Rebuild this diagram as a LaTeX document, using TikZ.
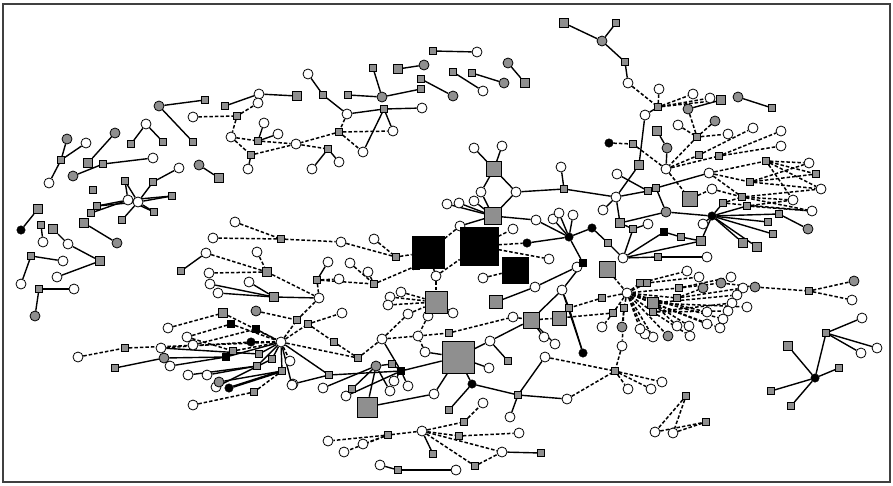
\documentclass[tikz,border=0pt]{standalone}
\usepackage{tikz}
\usetikzlibrary{positioning}

\definecolor{nodegray}{gray}{0.56}
\pgfdeclarelayer{bg}
\pgfsetlayers{bg,main}

\tikzset{
  wc/.style={circle, draw, fill=white, inner sep=0pt, minimum size=10pt, line width=0.8pt},
  gc/.style={wc, fill=nodegray},
  kc/.style={circle, draw, fill=black, inner sep=0pt, minimum size=8.5pt},
  ss/.style={rectangle, draw, fill=nodegray, inner sep=0pt, minimum size=7pt, line width=0.7pt},
  ms/.style={ss, minimum size=9.5pt},
  ks/.style={ss, fill=black},
  link/.style={line width=1.4pt},
  dlink/.style={line width=1.5pt, dash pattern=on 3.5pt off 2pt},
}

\begin{document}
\begin{tikzpicture}[x=1pt,y=-1pt]
    \useasboundingbox (0,0) rectangle (893,485);
    \draw[line width=1.2pt, black!75] (3,4) rectangle (890,482);

    % white circles
    \foreach \nm/\x/\y in {A2/86/143, A4/49/183, A9/153/158, A10/146/124, A18/179/168, A19/128/200, A20/138/202, A34/43/242, A35/68/244, A38/63/261, A40/57/277, A41/21/284, A43/74/289,
      B2/259/94, B4/258/103, B5/193/117, B7/231/137, B9/296/144, B10/264/123, B11/278/134, B13/248/169, B14/308/74, B16/347/114, B18/422/108, B19/393/131, B20/363/152, B23/312/169, B24/339/162, B32/477/52, B36/483/91,
      C5/628/83, C7/659/89, C8/693/94, C9/710/98, C14/645/115, C17/666/169, C21/678/125, C24/728/134, C25/753/128, C26/781/131, C27/781/146, C31/809/163, C33/821/189, C34/793/200, C35/812/211, C39/709/173, C40/712/189, C53/703/224,
      D2/474/148, D3/502/146, D4/481/192, D5/516/192, D7/447/204, D8/459/203, D9/474/201, D11/561/167, D12/536/220, D13/460/226, D14/513/229, D16/549/259, D17/483/278, D18/374/239, D21/436/276,
      H3/553/219, H4/559/213, H5/573/215, E1/616/197, E2/617/174, E6/603/210, E10/648/224,
      F2/401/292, F3/390/297, F4/388/305, F5/408/314, F6/453/313, F7/428/316, F10/535/287, F11/513/317, F15/562/290, F17/577/267, F19/544/337, F20/555/344, F22/418/336,
      G2/490/341, G4/489/368, G5/425/352, G8/545/357, G9/567/399, G10/510/417, G12/434/394, G17/382/339, G18/394/381, G19/408/386, G20/390/391, G22/346/396, G23/323/388, G24/293/384, G28/342/313, G32/339/279, G33/328/262, G34/350/263, G35/368/272, G37/319/298,
      L1/213/238, L3/341/242, L4/235/222, L6/206/253, L8/257/252, L9/209/273, L10/210/284, L11/218/293, L12/249/282,
      M1/281/342, M8/168/328, M9/187/337, M10/193/345, M11/161/348, M13/170/366, M14/188/375, M15/207/375, M16/216/387, M18/193/405, M25/292/385, M26/290/361, M28/78/357,
      N1/623/258, N3/707/257, N5/627/293, N14/687/271, N15/699/277, N16/731/277, N17/743/288, N18/737/295, N19/747/307, N20/732/303, N21/728/311, N22/723/319, N23/720/328, N24/707/324, N25/707/312, N26/689/326, N27/690/336, N28/677/326, N30/653/337, N31/645/334, N32/640/329, N37/602/327, N38/622/346, N42/852/300, N44/662/382, N45/628/389, N46/651/389, N48/655/432, N49/673/433,
      R3/862/318, R4/877/348, R5/861/353,
      P1/422/431, P3/483/403, P5/328/441, P6/344/452, P7/363/444, P10/519/433, P11/502/452, P14/380/465, P16/456/470}
      \node[wc] (\nm) at (\x,\y) {};

    % gray circles
    \foreach \nm/\x/\y in {A1/67/139, A5/115/133, A7/73/176, A13/159/106, A16/199/165, A36/117/243, A44/35/316,
      B26/382/97, B30/424/65, B34/453/96, B38/504/83, B39/508/63,
      C2/602/41, C11/688/109, C12/738/97, C16/667/148, C22/715/121, C48/808/229, E5/666/212, G15/376/366,
      M12/164/358, M17/219/382, M30/256/311,
      N12/703/288, N13/721/283, N29/668/336, N36/622/327, N39/755/287, N41/854/281}
      \node[gc] (\nm) at (\x,\y) {};

    % black circles
    \foreach \nm/\x/\y in {A30/21/230, C19/609/143, C44/712/216, D15/527/243, H1/569/237, E7/592/228, F21/583/353, G6/472/384, M5/251/342, M7/229/388, R1/815/378}
      \node[kc] (\nm) at (\x,\y) {};

    % small squares
    \foreach \nm/\x/\y in {A3/61/160, A8/103/164, A11/131/144, A12/163/142, A14/205/100, A15/193/142, A21/125/181, A22/153/182, A23/172/196, A24/154/212, A25/122/220, A26/97/206, A27/91/213, A28/93/190, A31/41/225, A37/31/256, A42/39/289,
      B1/225/106, B6/237/116, B8/258/141, B12/251/155, B15/323/95, B17/384/109, B21/339/132, B22/328/149, B25/373/68, B27/348/95, B28/421/89, B31/433/51, B33/421/79, B35/453/72, B37/472/73,
      C3/616/23, C4/625/62, C6/658/107, C13/772/108, C20/633/144, C23/697/137, C28/699/155, C29/719/156, C30/766/161, C32/816/174, C36/750/182, C37/742/197, C38/747/206, C43/723/203, C45/779/214, C46/768/222, C47/773/234,
      D10/564/189, D19/396/257, D20/416/266, E3/648/191, E4/656/188, E9/633/229, E12/681/237, E14/608/243, F14/569/308, F23/449/333,
      G3/508/361, G7/518/395, G11/449/410, G16/392/364, G21/352/389, G25/329/375, G26/358/358, G27/334/342, G29/308/324, G30/297/320, G31/317/280, G36/374/284,
      L2/281/239, L5/181/271, M19/254/392, M20/282/371, M21/257/366, M22/233/351, M23/259/354, M24/272/359, M27/125/348, M29/115/368,
      N2/658/257, N6/640/283, N7/647/283, N9/653/312, N10/679/288, N11/677/298, N33/602/298, N34/613/313, N35/624/308, N40/809/291, N43/615/371, N47/686/396, N50/706/422,
      R2/826/333, R7/839/368, R8/771/391, R9/791/406,
      P2/464/422, P4/388/435, P8/433/454, P9/459/436, P12/541/453, P13/475/466, P15/398/470}
      \node[ss] (\nm) at (\x,\y) {};

    % medium squares
    \foreach \nm/\x/\y in {A6/88/163, A17/219/178, A29/38/209, A32/53/229, A33/84/223, A39/100/261, B3/297/96, B29/398/69, B40/525/83,
      C1/564/23, C10/721/100, C15/657/131, C18/639/165, C50/743/243, C51/757/247, C52/701/241, E8/620/223, L7/267/272, L13/274/297, M2/223/313, R6/788/346}
      \node[ms] (\nm) at (\x,\y) {};

    % large squares
    \foreach \nm/\x/\y/\sz in {D1/494/169/15pt, D6/493/216/17pt, F1/436/302/22pt, F8/496/302/13pt, F12/531/320/16pt, F13/559/318/14pt, G1/458/357/32pt, G13/367/407/20pt, C41/690/199/15pt, N4/607/269/16pt, N8/653/303/11pt}
      \node[ss, minimum size=\sz] (\nm) at (\x,\y) {};
    \foreach \nm/\x/\y/\sz in {K1/428/252/32pt, K2/479/246/38pt, K3/515/270/26pt}
      \node[ks, minimum size=\sz] (\nm) at (\x,\y) {};
    \foreach \nm/\x/\y in {E11/664/232, F16/583/263, G14/401/371, M3/231/324, M4/256/329, M6/226/357}
      \node[ks, minimum size=7.5pt] (\nm) at (\x,\y) {};

    \begin{pgfonlayer}{bg}
    \foreach \a/\b in {A3/A1, A3/A2, A3/A4, A5/A6, A7/A8, A8/A9, A10/A11, A10/A12, A13/A14, A13/A15, A16/A17, A22/A18,
      A19/A21, A19/A24, A19/A26, A19/A27, A19/A23, A20/A22, A20/A25, A20/A23, A20/A21, A20/A26, A20/A24,
      A29/A30, A31/A34, A32/A35, A35/A39, A40/A39, A33/A36, A37/A38, A37/A41, A42/A43, A42/A44,
      B1/B2, B2/B3, B10/B8, B11/B8, B13/B12, B14/B15, B15/B16, B16/B17, B17/B18, B17/B19, B17/B20, B22/B23, B22/B24, B25/B26, B27/B26, B26/B28, B29/B30, B31/B32, B33/B34, B35/B36, B37/B38, B39/B40,
      C1/C2, C2/C3, C2/C4, C4/C5, C6/C14, C14/C18, C15/C16, C16/C17, C11/C10, C12/C13, C44/C43, C44/C45, C45/C48, C44/C46, C44/C47, C44/C50, C44/C51, C44/C52, C44/C53, C44/C38,
      D1/D2, D1/D3, D1/D4, D1/D5, D4/D6, D5/D6, D7/D6, D8/D6, D9/D6, D5/D10, D10/D11, D6/D12, D6/D13, D15/H1, H1/D12, H1/H3, H1/H4, H1/H5, H1/E7, H1/F16,
      D10/E1, E1/E3, E3/E4, E4/C39, E2/E3, C18/E1, E6/E1, E1/E8, E8/E9, E8/E5, E4/E5, E5/C44, E7/E14, E11/E12, E12/C52, E9/E10,
      N1/N2, N2/N3, N1/E14, N1/E9, N1/C52, N1/E11,
      F6/F1, F8/F10, F10/F17, F12/F15, F15/F16, F15/F21, F15/F14, F14/F21, F12/F19, F12/F20,
      G1/G2, G2/F12, G2/G3, G1/G4, G1/G5, G1/G6, G6/G7, G7/G8, G7/G9, G7/G10, G11/G6, G12/G1, G13/G12, G13/G15, G15/G16, G16/G14, G14/G1, G17/G14, G14/G18, G14/G19, G15/G20, G24/G25, G25/G14, G23/G15, G21/G15, G22/G14,
      L5/L6, L10/L13, L11/L13, L12/L13, L13/G37, G33/G31,
      M29/M12, M12/M6, M6/M1, M13/M6, M14/M21, M15/M21, M21/M1, M16/M24, M24/M1, M17/M20, M20/M1, M23/M1, M11/M23, M1/G25, M1/M25,
      R1/R2, R2/R3, R2/R4, R2/R5, R1/R6, R1/R7, R1/R8, R1/R9,
      P1/P8, P11/P12, P14/P15, P15/P16}
      \draw[link] (\a) -- (\b);
    \draw[line width=2.4pt] (M7) -- (M20);

    \foreach \a/\b in {B5/B6, B6/B4, B6/B7, B7/B8, B8/B9, B7/B12, B12/B9, B16/B21, B21/B19, B21/B20, B21/B9, B9/B22,
      C5/C6, C7/C6, C6/C8, C6/C9, C6/C10, C19/C20, C20/C17, C21/C23, C22/C23, C11/C23, C23/C24, C23/C17, C17/C28, C28/C25, C17/C29, C29/C26, C29/C27,
      C39/C30, C30/C31, C30/C32, C30/C33, C30/C34, C39/C36, C36/C31, C36/C32, C36/C33, C39/C37, C37/C33, C37/C34, C37/C35, C38/C35, C38/C34, C17/C41, C41/C40, C40/C37, C43/C37, C43/C35,
      D13/K1, K2/D14, K2/D15, K2/D16, D17/K3, D18/D19, L3/D19, D19/K1, D20/K1, D21/K1, D21/K2, G36/D20, G35/G36, G34/G36, G31/G36, G31/G32, G31/G37, D21/F1,
      F2/F1, F3/F1, F4/F1, F5/F1, F7/F1, F11/F12, F12/F13, F13/F14, F22/F23, F23/F11, F7/F22, G17/F22, G17/F5, G5/F22,
      G8/N43, G9/N43, N38/N43, N43/N44, N43/N45, N43/N46, N47/N48, N47/N49, N48/N50, N49/N50,
      N39/N40, N40/N41, N40/N42, N4/N5, N13/N39,
      N5/N6, N5/N7, N5/N8, N5/N9, N5/N10, N5/N11, N6/N14, N7/N15, N10/N16, N10/N13, N11/N12, N11/N17, N8/N18, N8/N19, N9/N20, N9/N21, N5/N22, N5/N23, N5/N24, N5/N25, N8/N26, N9/N27, N8/N28, N5/N29, N5/N30, N5/N31, N5/N32, N5/N33, N5/N34, N5/N35, N35/N36, N34/N37, N35/N38, N33/F14, N34/F13,
      L1/L2, L2/L3, L4/L2, L6/L7, L9/L7, L8/L7, L7/G37,
      M28/M27, M27/M1, M8/M2, M2/M1, M9/M3, M3/M1, M10/M4, M4/M1, M11/M5, M5/M1, M9/M22, M22/M1, M18/M19, M19/M20, M1/M26, M1/G26, M1/G30, M1/G29, M30/G30, G30/G37, G29/G28, G29/G27, G27/G26, G26/G17,
      P1/P2, P2/P3, P1/P4, P4/P5, P4/P6, P4/P7, P1/P9, P9/P10, P1/P11, P1/P13, P13/P11}
      \draw[dlink] (\a) -- (\b);
    \end{pgfonlayer}
\end{tikzpicture}
\end{document}
